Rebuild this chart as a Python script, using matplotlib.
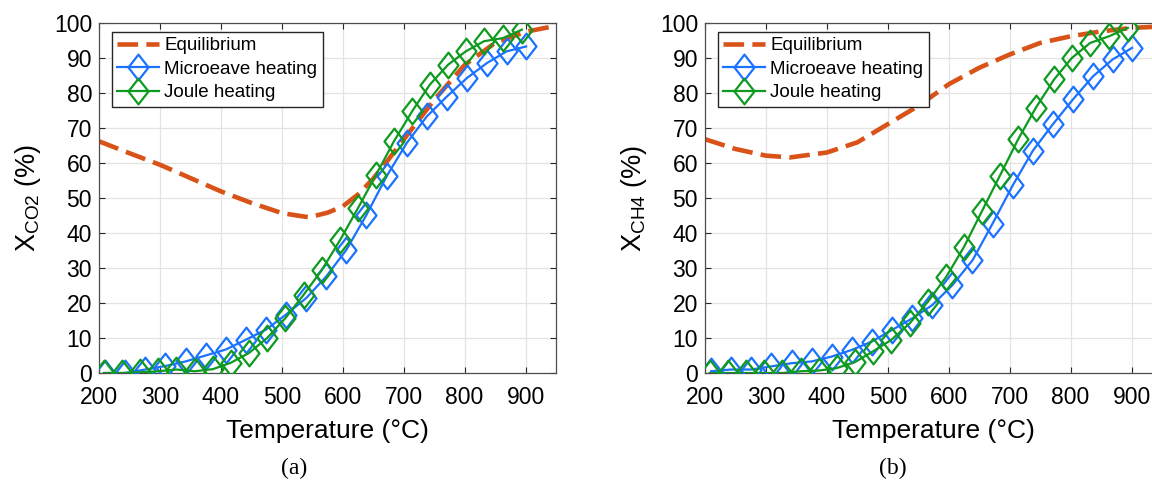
import numpy as np
import matplotlib
matplotlib.use("Agg")
import matplotlib.pyplot as plt
from matplotlib.path import Path

plt.rcParams["font.family"] = ["Liberation Sans", "DejaVu Sans"]
plt.rcParams["mathtext.default"] = "regular"

# ── Data ─────────────────────────────────────────────────────────────────────
T_mw    = [210, 243, 276, 309, 342, 375, 408, 441, 474, 507, 540,
           573, 606, 639, 672, 705, 738, 771, 804, 837, 869, 901]
T_joule = [208, 238, 267, 297, 327, 357, 387, 416, 446, 476, 506, 536,
           566, 596, 625, 655, 684, 714, 743, 773, 802, 832, 863, 894]

co2_eq_T = [200, 250, 300, 350, 400, 450, 500, 525, 545, 575, 600, 625,
            650, 675, 700, 750, 800, 850, 900, 950]
co2_eq   = [66.2, 62.8, 59.5, 55.7, 51.9, 48.6, 45.7, 45.0, 44.5, 45.8, 47.6,
            51.0, 55.5, 61.0, 66.7, 78.0, 88.0, 94.3, 97.5, 99.2]
co2_mw   = [0.0, 0.0, 1.0, 2.0, 3.3, 5.0, 6.7, 9.5, 12.4, 16.7, 21.4,
            27.6, 35.2, 45.2, 56.2, 65.7, 73.3, 79.0, 84.3, 88.6, 91.9, 93.3]
co2_joule = [0.0, 0.0, 0.2, 0.5, 1.0, 0.5, 1.1, 2.9, 5.7, 10.0, 15.7, 22.4,
             29.5, 38.1, 47.1, 56.7, 66.2, 74.8, 82.4, 88.1, 91.9, 94.8, 95.7, 98.1]

ch4_eq_T = [200, 250, 300, 340, 400, 450, 500, 550, 600, 650, 700,
            750, 800, 850, 900, 950]
ch4_eq   = [66.8, 64.0, 62.1, 61.6, 63.0, 65.9, 71.1, 76.3, 82.5, 87.2, 91.0,
            94.3, 96.2, 97.6, 98.6, 99.0]
ch4_mw   = [0.5, 1.0, 1.0, 1.9, 2.8, 3.3, 4.7, 6.6, 9.0, 12.3, 15.6,
            19.4, 25.1, 32.2, 42.7, 53.6, 63.5, 71.1, 78.2, 84.8, 89.6, 92.9]
ch4_joule = [0.0, 0.0, 0.0, 0.0, 0.0, 0.5, 0.7, 1.4, 3.1, 6.2, 9.5, 14.2,
             20.4, 27.5, 36.0, 46.4, 56.4, 66.8, 75.8, 83.9, 90.0, 94.3, 96.2, 98.6]

labels = ["Equilibrium", "Microeave heating", "Joule heating"]
C_EQ, C_MW, C_JH = "#D95319", "#1A72FF", "#0E9A1E"

# tall diamond like the MATLAB marker
diamond = Path([(0, 1), (0.78, 0), (0, -1), (-0.78, 0), (0, 1)],
               [Path.MOVETO, Path.LINETO, Path.LINETO, Path.LINETO, Path.CLOSEPOLY])


def panel(ax, eq_T, eq, mw, joule, ylabel):
    ax.plot(eq_T, eq, color=C_EQ, lw=3.3, ls=(0, (4.5, 1.8)), label=labels[0], zorder=2)
    ax.plot(T_mw, mw, color=C_MW, lw=1.6, marker=diamond, ms=18.5,
            mfc="none", mec=C_MW, mew=1.6, label=labels[1], zorder=3)
    ax.plot(T_joule, joule, color=C_JH, lw=1.6, marker=diamond, ms=18.5,
            mfc="none", mec=C_JH, mew=1.6, label=labels[2], zorder=4)

    ax.set_xlim(200, 950)
    ax.set_ylim(0, 100)
    ax.set_xticks(np.arange(200, 901, 100))
    ax.set_yticks(np.arange(0, 101, 10))
    ax.grid(True, color="#E3E3E3", lw=0.9)
    ax.set_axisbelow(True)
    ax.tick_params(direction="in", top=True, right=True, length=4,
                   labelsize=16.5, colors="#262626")
    ax.tick_params(axis="x", pad=9)
    ax.tick_params(axis="y", pad=5)
    for s in ax.spines.values():
        s.set_color("#4D4D4D")
        s.set_linewidth(0.9)
    ax.set_xlabel("Temperature (°C)", fontsize=19, labelpad=7.5)
    ax.set_ylabel(ylabel, fontsize=19.5, labelpad=8)
    for t in ax.get_xticklabels() + ax.get_yticklabels():
        t.set_color("black")

    leg = ax.legend(loc="upper left", bbox_to_anchor=(0.028, 0.975), fontsize=13.5,
                    frameon=True, fancybox=False, handlelength=2.2,
                    handletextpad=0.3, borderpad=0.3, labelspacing=0.33,
                    borderaxespad=0)
    leg.get_frame().set_edgecolor("#262626")
    leg.get_frame().set_linewidth(1.0)
    leg.get_frame().set_alpha(1)


fig = plt.figure(figsize=(11.52, 4.82), dpi=100)
ax1 = fig.add_axes([99 / 1152, 1 - 373 / 482, 457 / 1152, 350 / 482])
ax2 = fig.add_axes([705 / 1152, 1 - 373 / 482, 457 / 1152, 350 / 482])

panel(ax1, co2_eq_T, co2_eq, co2_mw, co2_joule, "X$_{CO2}$ (%)")
panel(ax2, ch4_eq_T, ch4_eq, ch4_mw, ch4_joule, "X$_{CH4}$ (%)")

fig.text(294 / 1152, 1 - 468 / 482, "(a)", ha="center", va="center",
         fontsize=17, family=["Liberation Serif", "DejaVu Serif"])
fig.text(893 / 1152, 1 - 468 / 482, "(b)", ha="center", va="center",
         fontsize=17, family=["Liberation Serif", "DejaVu Serif"])

fig.savefig("out.png", dpi=100)
